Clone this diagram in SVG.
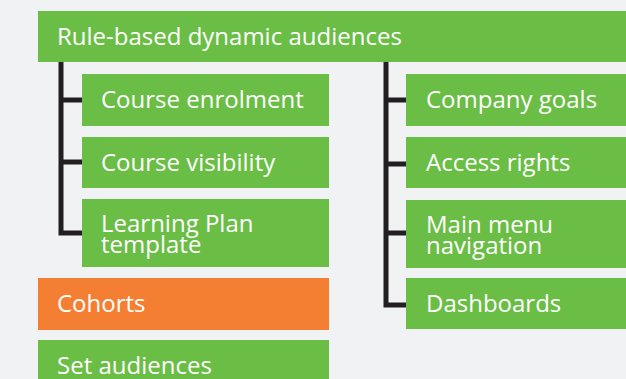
<svg xmlns="http://www.w3.org/2000/svg" width="626" height="379" viewBox="0 0 626 379">
<style>
.g{fill:#6abd45}
.o{fill:#f47f32}
.t{font-family:"Open Sans","Noto Sans",sans-serif;font-size:24px;fill:#ffffff}
.c{fill:none;stroke:#231f20;stroke-width:5;stroke-linejoin:miter}
</style>
<rect width="626" height="379" fill="#f1f2f4"/>
<g id="connectors">
<path class="c" d="M61,62 V233 H82 M61,100 H82 M61,162 H82"/>
<path class="c" d="M386,62 V305 H406 M386,100 H406 M386,164 H406 M386,233 H406"/>
</g>
<g id="rule-based"><rect class="g" x="38" y="11" width="600" height="51"/><text class="t" x="57" y="45">Rule-based dynamic audiences</text></g>
<g id="course-enrolment"><rect class="g" x="82" y="74" width="247" height="52"/><text class="t" x="101" y="108">Course enrolment</text></g>
<g id="course-visibility"><rect class="g" x="82" y="137" width="247" height="51"/><text class="t" x="101" y="171">Course visibility</text></g>
<g id="learning-plan"><rect class="g" x="82" y="199" width="247" height="68"/><text class="t" x="101" y="232">Learning Plan</text><text class="t" x="101" y="253">template</text></g>
<g id="cohorts"><rect class="o" x="38" y="278" width="291" height="52"/><text class="t" x="57" y="312">Cohorts</text></g>
<g id="set-audiences"><rect class="g" x="38" y="340" width="291" height="52"/><text class="t" x="57" y="374">Set audiences</text></g>
<g id="company-goals"><rect class="g" x="406" y="74" width="230" height="52"/><text class="t" x="426" y="108">Company goals</text></g>
<g id="access-rights"><rect class="g" x="406" y="137" width="230" height="51"/><text class="t" x="426" y="171">Access rights</text></g>
<g id="main-menu"><rect class="g" x="406" y="200" width="230" height="68"/><text class="t" x="426" y="233">Main menu</text><text class="t" x="426" y="254">navigation</text></g>
<g id="dashboards"><rect class="g" x="406" y="278" width="230" height="51"/><text class="t" x="426" y="312">Dashboards</text></g>
</svg>
